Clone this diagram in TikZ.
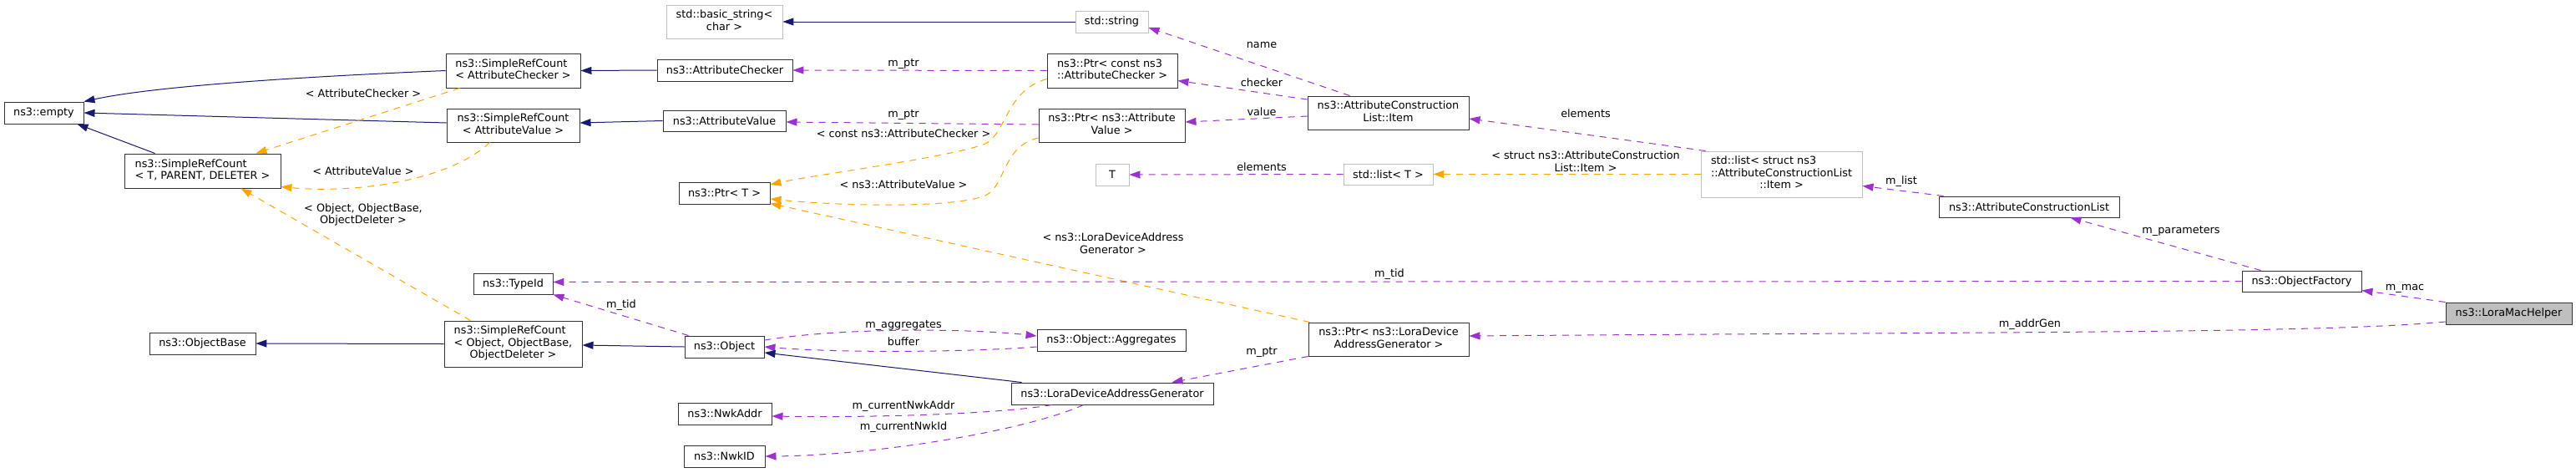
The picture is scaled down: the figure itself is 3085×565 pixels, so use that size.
\documentclass[tikz,border=0pt]{standalone}
\usepackage{fontspec}
\setmainfont{DejaVu Sans}
\usetikzlibrary{arrows.meta}
\definecolor{inhc}{HTML}{191970}
\definecolor{usec}{HTML}{9A32CD}
\definecolor{tplc}{HTML}{FFA500}
\definecolor{undoc}{HTML}{BFBFBF}
\definecolor{bordc}{HTML}{333333}
\newcommand{\twol}[2]{\begin{tabular}{@{}l@{}}#1\\\multicolumn{1}{@{}c@{}}{#2}\end{tabular}}
\newcommand{\threel}[3]{\begin{tabular}{@{}l@{}}#1\\#2\\\multicolumn{1}{@{}c@{}}{#3}\end{tabular}}
\begin{document}
\begin{tikzpicture}[x=1pt,y=-1pt,font=\fontsize{12.8}{14.5}\selectfont,
  box/.style 2 args={draw=bordc,fill=white,line width=0.95pt,inner sep=0pt,minimum width=#1,minimum height=#2},
  gbox/.style 2 args={box={#1}{#2},draw=undoc},
  inh/.style={draw=inhc,line width=1pt,-{Triangle[length=13pt,width=9pt]}},
  use/.style={draw=usec,line width=1pt,dash pattern=on 8pt off 7pt,-{Triangle[length=13pt,width=9pt]}},
  tpl/.style={draw=tplc,line width=1pt,dash pattern=on 8pt off 7pt,-{Triangle[length=13pt,width=9pt]}},
  lbl/.style={inner sep=0pt,align=center}]
\path[fill=white,use as bounding box] (0,0) rectangle (3085,565);
% nodes
\node[box={95}{26}] (empty) at (52.5,135) {ns3::empty};
\node[box={161}{41}] (srcAC) at (614.5,84.5) {\twol{ns3::SimpleRefCount}{< AttributeChecker >}};
\node[box={159}{40}] (srcAV) at (614.5,150) {\twol{ns3::SimpleRefCount}{< AttributeValue >}};
\node[box={187}{41}] (srcT) at (242.5,204.5) {\twol{ns3::SimpleRefCount}{< T, PARENT, DELETER >}};
\node[box={95}{25}] (typeid) at (614.5,339.5) {ns3::TypeId};
\node[box={165}{55}] (srcObj) at (614.5,411.5) {\threel{ns3::SimpleRefCount}{< Object, ObjectBase,}{ObjectDeleter >}};
\node[box={127}{26}] (objbase) at (242.5,411) {ns3::ObjectBase};
\node[gbox={139}{40}] (bstr) at (867.5,26) {\twol{std::basic\_string<}{char >}};
\node[box={162}{26}] (attrChk) at (868,84) {ns3::AttributeChecker};
\node[box={147}{25}] (attrVal) at (867.5,144.5) {ns3::AttributeValue};
\node[box={109}{26}] (ptrT) at (867.5,231) {ns3::Ptr< T >};
\node[box={95}{26}] (obj) at (867.5,415) {ns3::Object};
\node[box={112}{26}] (nwkAddr) at (868,495) {ns3::NwkAddr};
\node[box={97}{26}] (nwkID) at (867.5,546) {ns3::NwkID};
\node[gbox={87}{26}] (str) at (1331.5,26) {std::string};
\node[box={156}{41}] (ptrCAC) at (1332,84.5) {\twol{ns3::Ptr< const ns3}{::AttributeChecker >}};
\node[box={175}{40}] (ptrAV) at (1331.5,150) {\twol{ns3::Ptr< ns3::Attribute}{Value >}};
\node[gbox={40}{26}] (T) at (1332,209) {T};
\node[box={178}{26}] (aggr) at (1331,407) {ns3::Object::Aggregates};
\node[box={242}{26}] (ldag) at (1332,471) {ns3::LoraDeviceAddressGenerator};
\node[box={193}{40}] (item) at (1662.5,135) {\twol{ns3::AttributeConstruction}{List::Item}};
\node[gbox={107}{25}] (listT) at (1662.5,208.5) {std::list< T >};
\node[box={192}{40}] (ptrLDAG) at (1663,406) {\twol{ns3::Ptr< ns3::LoraDevice}{AddressGenerator >}};
\node[gbox={193}{55}] (listS) at (2133.5,208.5) {\threel{std::list< struct ns3}{::AttributeConstructionList}{::Item >}};
\node[box={216}{25}] (acl) at (2430,247.5) {ns3::AttributeConstructionList};
\node[box={143}{25}] (of) at (2756.5,336.5) {ns3::ObjectFactory};
\node[box={151}{26},fill=undoc] (lmh) at (3004.5,375) {ns3::LoraMacHelper};
% edges
\draw[inh] (srcAC.west) .. controls (380,91) and (190,102) .. (empty.north east);
\draw[inh] ([yshift=3pt]srcAV.west) -- (empty.east);
\draw[inh] ([xshift=37pt]srcT.north west) -- ([xshift=-8pt]empty.south east);
\draw[inh] (attrChk.west) -- (srcAC.east);
\draw[inh] (attrVal.west) -- ([yshift=3pt]srcAV.east);
\draw[tpl] ([xshift=17pt]srcAC.south west) -- ([xshift=-30pt]srcT.north east);
\draw[tpl] ([xshift=52pt]srcAV.south west) .. controls (540,215) and (430,232) .. ([yshift=2pt]srcT.south east);
\draw[tpl] ([xshift=32pt]srcObj.north west) -- ([xshift=-48pt]srcT.south east);
\draw[inh] (srcObj.west) -- (objbase.east);
\draw[inh] (obj.west) -- ([yshift=-1.5pt]srcObj.east);
\draw[use] ([xshift=5pt]obj.north west) -- (typeid.south east);
\draw[inh] (str.west) -- (bstr.east);
\draw[use] (ptrCAC.west) -- (attrChk.east);
\draw[use] ([yshift=1pt]ptrAV.west) -- ([yshift=-1.5pt]attrVal.east);
\draw[tpl] ([yshift=-10pt]ptrCAC.west) .. controls (1205,108) and (1205,160) .. (1180,172) .. controls (1140,188) and (970,210) .. ([yshift=10pt]ptrT.east);
\draw[tpl] ([yshift=-15pt]ptrAV.west) .. controls (1200,175) and (1205,222) .. (1180,234) .. controls (1140,250) and (1000,246) .. ([yshift=-7pt]ptrT.east);
\draw[tpl] ([xshift=2pt]ptrLDAG.north west) -- ([yshift=1pt]ptrT.south east);
\draw[use] ([yshift=8pt]obj.east) .. controls (1000,393) and (1150,392) .. ([yshift=5pt]aggr.west);
\draw[use] ([yshift=-8pt]aggr.west) .. controls (1150,422) and (1000,422) .. (obj.east);
\draw[inh] ([xshift=13pt]ldag.north west) -- ([yshift=-7pt]obj.east);
\draw[use] ([xshift=49pt]ldag.south west) .. controls (1200,495) and (1050,500) .. ([yshift=-3pt]nwkAddr.east);
\draw[use] ([xshift=87pt]ldag.south west) .. controls (1230,515) and (1050,545) .. (nwkID.east);
\draw[use] (ptrLDAG.south west) -- ([xshift=-50pt]ldag.north east);
\draw[use] ([xshift=51pt]item.north west) -- ([yshift=-7pt]str.east);
\draw[use] ([yshift=16pt]item.west) -- ([yshift=-12pt]ptrCAC.east);
\draw[use] ([yshift=-4pt]item.west) -- ([yshift=4pt]ptrAV.east);
\draw[use] (listT.west) -- (T.east);
\draw[use] ([xshift=6pt]listS.north west) -- ([yshift=-7pt]item.east);
\draw[tpl] (listS.west) -- (listT.east);
\draw[use] ([xshift=6pt]acl.north west) -- ([yshift=-14pt]listS.east);
\draw[use] ([xshift=23pt]of.north west) -- ([xshift=-59pt]acl.south east);
\draw[use] (of.west) -- ([yshift=2pt]typeid.east);
\draw[use] (lmh.north west) -- ([yshift=2pt]of.south east);
\draw[use] ([yshift=-10pt]lmh.west) .. controls (2780,399) and (2400,397) .. ([yshift=4pt]ptrLDAG.east);
% labels
\node[lbl] (l1) at (435,112) {< AttributeChecker >};
\node[lbl] (l2) at (435,205) {< AttributeValue >};
\node[lbl] (l3) at (435,257) {< Object, ObjectBase,\\ObjectDeleter >};
\node[lbl] (l4) at (744,365) {m\_tid};
\node[lbl] (l5) at (1082,77) {m\_ptr};
\node[lbl] (l6) at (1082,138) {m\_ptr};
\node[lbl] (l7) at (1082,160) {< const ns3::AttributeChecker >};
\node[lbl] (l8) at (1082,221) {< ns3::AttributeValue >};
\node[lbl] (l9) at (1511,54) {name};
\node[lbl] (l10) at (1511,99) {checker};
\node[lbl] (l11) at (1511,134) {value};
\node[lbl] (l12) at (1511,200) {elements};
\node[lbl] (l13) at (1333,291) {< ns3::LoraDeviceAddress\\Generator >};
\node[lbl] (l14) at (1082,390) {m\_aggregates};
\node[lbl] (l15) at (1082,409) {buffer};
\node[lbl] (l16) at (1082,486) {m\_currentNwkAddr};
\node[lbl] (l17) at (1082,511) {m\_currentNwkId};
\node[lbl] (l18) at (1511,422) {m\_ptr};
\node[lbl] (l19) at (1899,136) {elements};
\node[lbl] (l20) at (1899,193) {< struct ns3::AttributeConstruction\\List::Item >};
\node[lbl] (l21) at (2277,217) {m\_list};
\node[lbl] (l22) at (2612,277) {m\_parameters};
\node[lbl] (l23) at (1664,328) {m\_tid};
\node[lbl] (l24) at (2880,345) {m\_mac};
\node[lbl] (l25) at (2431,388) {m\_addrGen};
\end{tikzpicture}
\end{document}
